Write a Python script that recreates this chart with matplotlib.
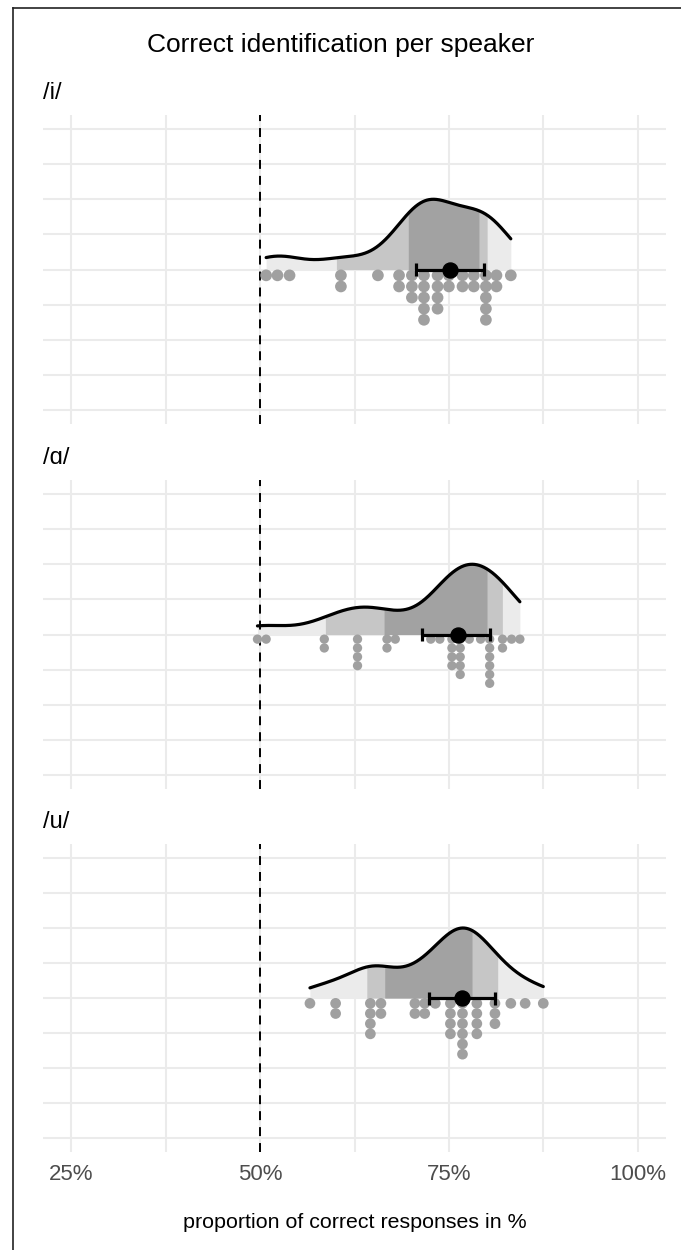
import numpy as np
import matplotlib
matplotlib.use("Agg")
import matplotlib.pyplot as plt
from matplotlib.lines import Line2D

# ---------------- data ----------------
vowels = ["/i/", "/ɑ/", "/u/"]

# per-speaker proportion of correct responses (%), one value per speaker
scores_i = [50.8, 52.3, 53.9, 60.7, 60.7, 65.6, 68.4, 68.4, 70.1, 70.1, 70.1,
            71.7, 71.7, 71.7, 71.7, 71.7, 73.5, 73.5, 73.5, 73.5, 75.0, 75.0,
            76.8, 76.8, 78.3, 78.3, 79.9, 79.9, 79.9, 79.9, 79.9, 81.3, 81.3, 83.2]
scores_a = [49.65, 50.8, 58.5, 58.5, 62.9, 62.9, 62.9, 62.9, 66.8, 66.8, 67.9,
            72.6, 73.8, 75.4, 75.4, 75.4, 75.4, 76.5, 76.5, 76.5, 76.5, 76.5,
            77.7, 79.2, 80.4, 80.4, 80.4, 80.4, 80.4, 80.4, 82.1, 82.1, 83.3, 84.4]
scores_u = [56.6, 60.0, 60.0, 64.6, 64.6, 64.6, 64.6, 66.0, 66.0, 70.5, 70.5,
            71.8, 71.8, 73.2, 75.2, 75.2, 75.2, 75.2, 76.8, 76.8, 76.8, 76.8,
            76.8, 76.8, 78.7, 78.7, 78.7, 78.7, 81.1, 81.1, 81.1, 83.2, 85.1, 87.5]

# slab interval bounds (inner = dark, outer = medium)
inner_lo = [69.6, 66.4, 66.5]
inner_hi = [79.0, 80.1, 78.1]
outer_lo = [60.1, 58.6, 64.1]
outer_hi = [80.1, 82.1, 81.5]

# point estimate with interval
estimate = [75.2, 76.2, 76.8]
est_lo = [70.6, 71.5, 72.4]
est_hi = [79.7, 80.4, 81.1]

chance_level = 50
x_ticks = [25, 50, 75, 100]
x_tick_labels = ["25%", "50%", "75%", "100%"]

all_scores = [scores_i, scores_a, scores_u]

# ---------------- style / layout ----------------
W, H = 681, 1250
panel_px = [(115, 424), (480, 789), (844, 1152)]
left_px, right_px = 43, 666
dot_diam_px = [11.7, 9.3, 10.7]
bw_factor = [1.15, 0.85, 0.9]

FONT = ["Liberation Sans", "DejaVu Sans"]
plt.rcParams["font.family"] = FONT

C_LIGHT = "#EBEBEB"
C_MID = "#C6C6C6"
C_DARK = "#A2A2A2"
C_DOT = "#A0A0A0"
GRID = "#EBEBEB"


def kde(data, grid, bw):
    data = np.asarray(data, float)
    z = (grid[:, None] - data[None, :]) / bw
    return np.exp(-0.5 * z ** 2).sum(axis=1)


fig = plt.figure(figsize=(W / 100, H / 100), dpi=100)

for k, (top, bot) in enumerate(panel_px):
    ax = fig.add_axes([left_px / W, 1 - bot / H, (right_px - left_px) / W, (bot - top) / H])
    ax.set_xlim(21.25, 103.75)
    ax.set_ylim(-1.1, 1.1)
    ax.set_xticks(x_ticks)
    ax.set_xticks([37.5, 62.5, 87.5], minor=True)
    ax.set_yticks([-1, -0.5, 0, 0.5, 1])
    ax.set_yticks([-0.75, -0.25, 0.25, 0.75], minor=True)
    ax.grid(which="both", color=GRID, lw=1.5)
    ax.set_axisbelow(True)
    for s in ax.spines.values():
        s.set_visible(False)
    ax.tick_params(which="both", length=0, labelleft=False)
    if k == 2:
        ax.set_xticklabels(x_tick_labels, fontsize=16, color="#4D4D4D")
        ax.tick_params(axis="x", pad=9)
    else:
        ax.tick_params(axis="x", labelbottom=False)

    ppu = (bot - top) / 2.2  # px per y unit

    data = np.asarray(all_scores[k])
    n = len(data)
    sd = data.std(ddof=1)
    iqr = np.subtract(*np.percentile(data, [75, 25]))
    bw = 0.9 * min(sd, iqr / 1.34) * n ** (-0.2) * bw_factor[k]
    grid = np.linspace(data.min(), data.max(), 600)
    dens = kde(data, grid, bw)
    dens = dens / dens.max() * 0.5

    ax.fill_between(grid, 0, dens, color=C_LIGHT, lw=0, zorder=2)
    m = (grid >= outer_lo[k]) & (grid <= outer_hi[k])
    ax.fill_between(grid[m], 0, dens[m], color=C_MID, lw=0, zorder=2.1)
    m = (grid >= inner_lo[k]) & (grid <= inner_hi[k])
    ax.fill_between(grid[m], 0, dens[m], color=C_DARK, lw=0, zorder=2.2)
    ax.plot(grid, dens, color="black", lw=2.3, zorder=3, solid_capstyle="round")

    # dots
    vals, counts = np.unique(data, return_counts=True)
    d = dot_diam_px[k]
    xs, ys = [], []
    for v, c in zip(vals, counts):
        for j in range(c):
            xs.append(v)
            ys.append(-(d / 2 + j * d * 0.95) / ppu)
    ax.scatter(xs, ys, s=(d * 0.72) ** 2, color=C_DOT, edgecolors="none", zorder=4)

    # chance line
    ax.axvline(chance_level, color="black", lw=1.4, dashes=(4.6, 3.6), zorder=3.5)

    # point interval
    cap = 6.5 / ppu
    ax.plot([est_lo[k], est_hi[k]], [0, 0], color="black", lw=2.3, zorder=5,
            solid_capstyle="butt")
    for xv in (est_lo[k], est_hi[k]):
        ax.plot([xv, xv], [-cap, cap], color="black", lw=2.3, zorder=5,
                solid_capstyle="butt")
    ax.plot([estimate[k]], [0], "o", ms=10.8, color="black", zorder=6)

    # facet label
    fig.text(left_px / W, 1 - (top - 22) / H, vowels[k], fontsize=17,
             ha="left", va="center", family=FONT)

fig.text(0.5, 1 - 45 / H, "Correct identification per speaker", fontsize=19,
         ha="center", va="center")
fig.text((left_px + right_px) / 2 / W, 1 - 1222 / H,
         "proportion of correct responses in %", fontsize=15.4,
         ha="center", va="center")

# frame (left and top)
fig.add_artist(Line2D([13 / W, 13 / W], [0, 1 - 8 / H], color="#222222", lw=1.2,
                      transform=fig.transFigure))
fig.add_artist(Line2D([13 / W, 1], [1 - 8 / H, 1 - 8 / H], color="#222222", lw=1.2,
                      transform=fig.transFigure))

fig.savefig("out.png", dpi=100)
